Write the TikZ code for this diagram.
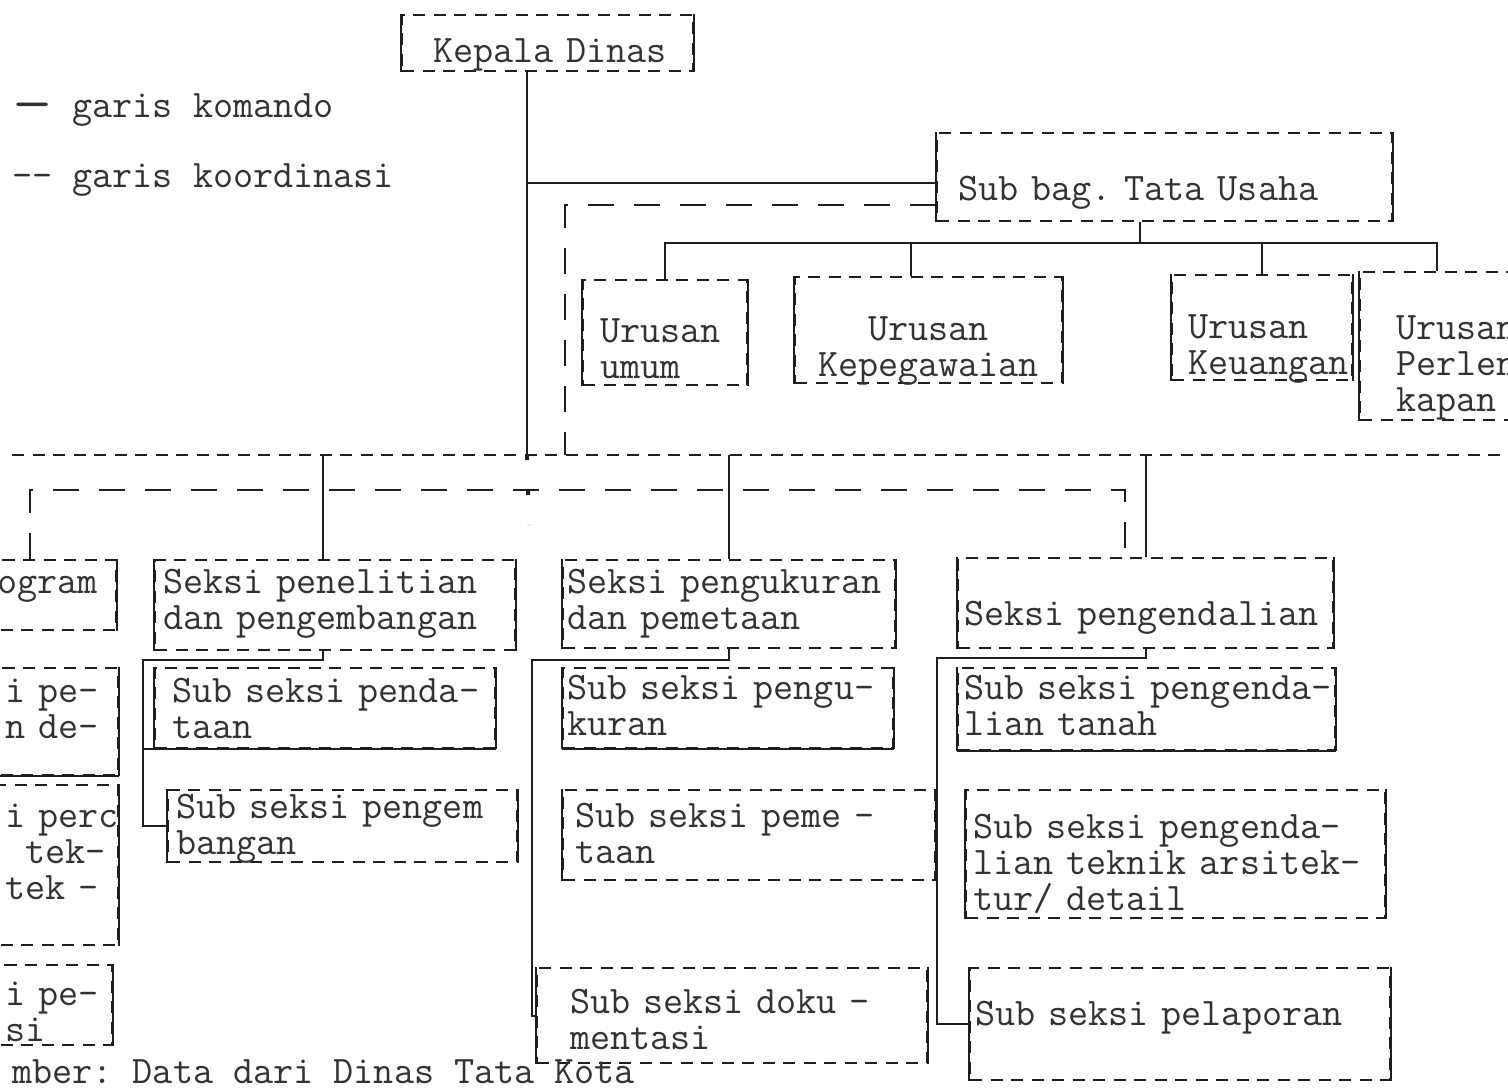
\documentclass[tikz,border=0pt]{standalone}
\usepackage{tikz}
\usetikzlibrary{positioning, calc}
\definecolor{ink}{RGB}{30,30,30}
\definecolor{typeink}{RGB}{50,50,50}
\newcommand\tyfont{\ttfamily\fontsize{19.5}{18}\selectfont\hyphenpenalty=10000 \exhyphenpenalty=10000 }
\tikzset{
  cmdline/.style={draw=ink, line width=1pt},
  coordline/.style={draw=ink, line width=1pt, dash pattern=on 13pt off 10pt},
  busline/.style={draw=ink, line width=1.1pt, dash pattern=on 6pt off 4.25pt},
  typefont/.style={font=\tyfont, text=typeink},
  unitbox/.style={
    busline, typefont, inner sep=0pt, align=left,
    append after command={
      (\tikzlastnode.north west) edge[cmdline] (\tikzlastnode.south west)
      (\tikzlastnode.north east) edge[cmdline] (\tikzlastnode.south east)}
  },
  unitbox-base/.style={unitbox,
    append after command={(\tikzlastnode.south west) edge[cmdline] (\tikzlastnode.south east)}}
}

\begin{document}
\begin{tikzpicture}[x=0.5pt, y=-0.5pt]
  \fill[white] (0,0) rectangle (1508,1089);
  \useasboundingbox (0,0) rectangle (1508,1089);

  % legend
  \node[typefont, anchor=base west, inner sep=0pt] (legkom) at (12,117) {\raisebox{-0.12em}{\scalebox{2}[1.4]{\textemdash}}~garis komando};
  \node[typefont, anchor=base west, inner sep=0pt] (legkoord) at (12,187) {-{}-~garis koordinasi};

  % top
  \node[unitbox, minimum width=145.5pt, text width=114.5pt, text height=23.5pt, text depth=4.5pt] (kepala) at (547.5,43) {Kepala~Dinas};
  \node[unitbox, minimum width=227.5pt, text width=206.5pt, text height=33.5pt, text depth=10.5pt] (tatausaha) at (1164.5,177) {Sub~bag.~Tata~Usaha};

  \node[unitbox, minimum width=82pt, text width=65pt, text height=31pt, text depth=21.5pt] (umum) at (665,332.5) {Urusan\\umum};
  \node[unitbox, align=center, minimum width=133.5pt, text width=120pt, text height=31.5pt, text depth=21.5pt] (pegawai) at (928.5,330) {Urusan\\Kepegawaian};
  \node[unitbox, minimum width=90pt, text width=74pt, text height=31.5pt, text depth=21pt] (uang) at (1262,327.5) {Urusan\\Keuangan};
  \node[unitbox, minimum width=105pt, text width=69pt, text height=33.5pt, text depth=40.5pt] (lengkap) at (1465,346) {Urusan\\Perleng-\\kapan};

  % seksi
  \node[unitbox, minimum width=68pt, text width=51pt, text height=16.5pt, text depth=18.5pt] (program) at (48,595) {ogram};
  \node[unitbox, minimum width=180pt, text width=172pt, text height=16.5pt, text depth=28.5pt] (litbang) at (335,605) {Seksi~penelitian\\dan~pengembangan};
  \node[unitbox, minimum width=166pt, text width=162pt, text height=16.5pt, text depth=27.5pt] (ukur) at (729,604) {Seksi~pengukuran\\dan~pemetaan};
  \node[unitbox, minimum width=187.5pt, text width=181.5pt, text height=33.5pt, text depth=11.5pt] (kendali) at (1145.5,603) {Seksi~pengendalian};

  % sub seksi
  \node[unitbox-base, minimum width=69pt, text width=44pt, text height=17pt, text depth=36.5pt] (left2) at (49,721.5) {i~pe-\\n~de-};
  \node[unitbox, minimum width=69pt, text width=44pt, text height=21pt, text depth=59pt] (left3) at (49,865) {i~perc\\\hphantom{t}tek-\\tek~-};
  \node[unitbox, minimum width=66pt, text width=41pt, text height=20pt, text depth=20pt] (left4) at (46,1005) {i~pe-\\si};

  \node[unitbox-base, minimum width=170pt, text width=153pt, text height=17pt, text depth=23pt] (data) at (325,708) {Sub~seksi~penda-\\taan};
  \node[unitbox, minimum width=174.5pt, text width=166.5pt, text height=14pt, text depth=22pt] (kembang) at (342.5,826) {Sub~seksi~pengem\\bangan};

  \node[unitbox-base, minimum width=165pt, text width=161pt, text height=15.5pt, text depth=24.5pt] (subukur) at (728,708) {Sub~seksi~pengu-\\kuran};
  \node[unitbox, minimum width=186pt, text width=174pt, text height=18.5pt, text depth=26.5pt] (petaan) at (749,835) {Sub~seksi~peme~-\\taan};
  \node[unitbox, minimum width=195pt, text width=162pt, text height=22.5pt, text depth=25pt] (doku) at (732,1015.5) {Sub~seksi~doku~-\\mentasi};

  \node[unitbox-base, minimum width=188.5pt, text width=182.5pt, text height=15.5pt, text depth=25.5pt] (tanah) at (1146.5,709) {Sub~seksi~pengenda-\\lian~tanah};
  \node[unitbox, minimum width=209.5pt, text width=202.5pt, text height=24pt, text depth=40pt] (teknik) at (1175.5,854) {Sub~seksi~pengenda-\\lian~teknik~arsitek-\\tur/~detail};
  \node[unitbox, minimum width=210pt, text width=205pt, text height=28.5pt, text depth=27.5pt] (lapor) at (1180,1024) {Sub~seksi~pelaporan};

  \node[typefont, anchor=base west, inner sep=0pt] (sumber) at (12,1083) {mber:~Data dari Dinas Tata Kota};

  % junctions
  \coordinate (bus) at (527,455);
  \coordinate (busL) at (12,455);
  \coordinate (busR) at (1508,455);
  \coordinate (spinedot) at (529,525);
  \coordinate (tu) at (1140,243);
  \coordinate (ko1) at (565,455);
  \coordinate (ko2) at (1125,490);
  \coordinate (lb) at (143,660);
  \coordinate (uk) at (532,660);
  \coordinate (kd) at (937,658);

  % garis komando
  \draw[cmdline, line width=1.3pt] (kepala.south -| bus) -- (bus);
  \draw[ink, line width=2pt, dash pattern=on 2.5pt off 15pt] (bus) -- (spinedot);
  \draw[cmdline] (bus |- tatausaha.west) ++(0,6) -- ([yshift=-3pt]tatausaha.west);
  \draw[busline] (busL) -- (busR);

  \draw[cmdline] (tu |- tatausaha.south) -- (tu);
  \draw[cmdline] (umum.north) |- (tu) -| ([xshift=39pt]lengkap.north west);
  \draw[cmdline] ([xshift=-9pt]pegawai.north) -- ([xshift=-9pt]pegawai.north |- tu);
  \draw[cmdline] (uang.north) -- (uang.north |- tu);

  \draw[cmdline] ([xshift=-6pt]litbang.north) -- ([xshift=-6pt]litbang.north |- bus);
  \draw[cmdline] (ukur.north) -- (ukur.north |- bus);
  \draw[cmdline] (kendali.north) -- (kendali.north |- bus);

  \draw[cmdline] ([xshift=-6pt]litbang.south) |- (lb) |- (kembang.west);
  \draw[cmdline] (lb |- data.south west) -- (data.south west);
  \draw[cmdline] (ukur.south) |- (uk) |- (doku.west);
  \draw[cmdline] (kendali.south) |- (kd) |- (lapor.west);

  % garis koordinasi
  \draw[coordline] ([yshift=-14pt]tatausaha.west) -| (ko1);
  \draw[coordline] ([xshift=-9pt]program.north) |- (ko2) -- ([xshift=-10.25pt]kendali.north);
\end{tikzpicture}
\end{document}
